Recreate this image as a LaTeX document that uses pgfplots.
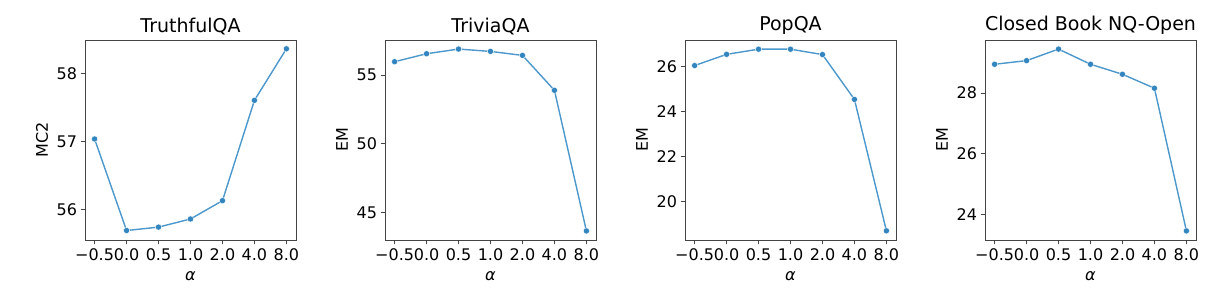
\documentclass[border=0pt]{standalone}
\usepackage{fontspec}
\setmainfont{DejaVu Sans}
\usepackage{pgfplots}
\pgfplotsset{compat=1.18}
\definecolor{lc}{HTML}{4C97CB}
\definecolor{mc}{HTML}{3385BF}
\definecolor{sp}{HTML}{444444}
\pgfplotsset{
  ser/.style={color=lc, line width=1.4pt, mark=*, mark size=3.1pt,
      mark options={fill=mc, draw=white, line width=0.4pt}},
  panel/.style={
    scale only axis, width=211pt, height=200pt,
    anchor=south west,
    xmin=-0.3, xmax=6.3,
    xtick={0,1,2,3,4,5,6},
    xticklabels={−0.5,0.0,0.5,1.0,2.0,4.0,8.0},
    tick label style={font=\fontsize{16}{16}\selectfont, text=black},
    /pgf/number format/assume math mode=true,
    title style={font=\fontsize{19}{19}\selectfont, yshift=-4pt},
    label style={font=\fontsize{16}{16}\selectfont},
    xlabel={\itshape α},
    xlabel style={at={(axis description cs:0.5,0)}, anchor=center, yshift=-36pt},
    ylabel style={at={(axis description cs:0,0.5)}, anchor=center, yshift=43pt},
    axis line style={sp, line width=0.9pt},
    tick style={sp, line width=0.9pt},
    tick align=outside, major tick length=4.5pt,
    xtick pos=bottom, ytick pos=left,
    xticklabel style={yshift=-1pt, inner xsep=0pt},
  }
}
\begin{document}
\begin{tikzpicture}[x=1pt,y=1pt]
\path[use as bounding box] (0,0) rectangle (1218,305);
\begin{axis}[panel, at={(85pt,65pt)}, title={TruthfulQA}, ylabel={MC2},
  ymin=55.55, ymax=58.50, ytick={56,57,58}]
\addplot[ser] coordinates {(0,57.04) (1,55.69) (2,55.74) (3,55.86) (4,56.13) (5,57.61) (6,58.37)};
\end{axis}
\begin{axis}[panel, at={(385pt,65pt)}, title={TriviaQA}, ylabel={EM},
  ymin=43.0, ymax=57.55, ytick={45,50,55}]
\addplot[ser] coordinates {(0,55.97) (1,56.55) (2,56.89) (3,56.72) (4,56.43) (5,53.89) (6,43.66)};
\end{axis}
\begin{axis}[panel, at={(685pt,65pt)}, title={PopQA}, ylabel={EM},
  ymin=18.28, ymax=27.2, ytick={20,22,24,26}]
\addplot[ser] coordinates {(0,26.06) (1,26.56) (2,26.79) (3,26.79) (4,26.55) (5,24.55) (6,18.69)};
\end{axis}
\begin{axis}[panel, at={(985pt,65pt)}, title={Closed Book NQ-Open}, ylabel={EM},
  ymin=23.16, ymax=29.75, ytick={24,26,28}]
\addplot[ser] coordinates {(0,28.95) (1,29.07) (2,29.45) (3,28.95) (4,28.62) (5,28.16) (6,23.46)};
\end{axis}
\end{tikzpicture}
\end{document}
